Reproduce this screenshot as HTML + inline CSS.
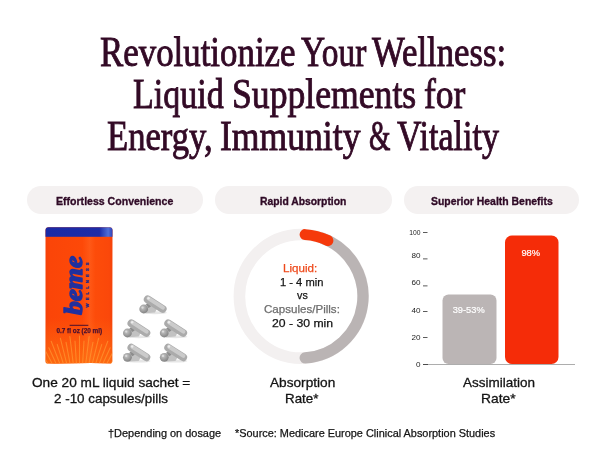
<!DOCTYPE html>
<html lang="en">
<head>
<meta charset="utf-8">
<title>Revolutionize Your Wellness</title>
<style>
html,body{margin:0;padding:0;background:#fff;}
body{width:601px;height:451px;position:relative;overflow:hidden;font-family:"Liberation Sans",sans-serif;color:#141414;}
h1{margin:0;padding:0;font-weight:normal;font-size:inherit;}
.t{position:absolute;display:block;white-space:nowrap;line-height:normal;transform-origin:0 0;}
.pill{position:absolute;top:185.7px;height:28.5px;border-radius:14.25px;background:#f4f1f1;}
svg{position:absolute;left:0;top:0;}
</style>
</head>
<body>
<div class="pill" style="left:26.5px;width:176.1px"></div>
<div class="pill" style="left:214.6px;width:177.4px"></div>
<div class="pill" style="left:403.5px;width:175.8px"></div>

<svg width="601" height="451" viewBox="0 0 601 451">
  <defs>
    <linearGradient id="og" x1="0" y1="0" x2="1" y2="0">
      <stop offset="0" stop-color="#f54008"/>
      <stop offset="0.08" stop-color="#fb4508"/>
      <stop offset="0.55" stop-color="#fd4908"/>
      <stop offset="0.66" stop-color="#ff5816"/>
      <stop offset="0.74" stop-color="#fd4c0a"/>
      <stop offset="0.94" stop-color="#fb480a"/>
      <stop offset="1" stop-color="#f3420a"/>
    </linearGradient>
    <linearGradient id="lg" x1="0" y1="0" x2="0" y2="1">
      <stop offset="0" stop-color="#ff8a18" stop-opacity="0"/>
      <stop offset="1" stop-color="#ff8a18" stop-opacity="0.5"/>
    </linearGradient>
    <linearGradient id="bg" x1="0" y1="0" x2="1" y2="0">
      <stop offset="0" stop-color="#1a2aa6"/>
      <stop offset="0.8" stop-color="#1c2ca8"/>
      <stop offset="0.93" stop-color="#4f6fd8"/>
      <stop offset="1" stop-color="#2a3cb4"/>
    </linearGradient>
    <radialGradient id="sg" cx="0.4" cy="0.35" r="0.7">
      <stop offset="0" stop-color="#c8c8c8"/>
      <stop offset="1" stop-color="#7e7e7e"/>
    </radialGradient>
    <filter id="soft" x="-10%" y="-10%" width="120%" height="120%"><feGaussianBlur stdDeviation="0.6"/></filter>
    <clipPath id="sc"><path d="M45.5 230.3 Q45.5 227.3 48.5 227.3 L109.5 227.3 Q112.5 227.3 112.5 230.3 L112.3 361 Q112.3 363.6 109.5 363.6 Q95 362.6 79 363.2 Q62 363.8 48 363.6 Q45.5 363.6 45.5 361 Z"/></clipPath>
  </defs>

  <!-- sachet -->
  <g clip-path="url(#sc)">
    <rect x="45" y="227" width="68" height="137" fill="url(#og)"/>
    <rect x="45" y="227" width="68" height="9.8" fill="url(#bg)"/>
    <rect x="45" y="318" width="68" height="46" fill="url(#lg)"/>
    <g stroke="#ffa038" stroke-width="1.1" opacity="0.6" stroke-linecap="round">
      <line x1="47.4" y1="379.3" x2="26.6" y2="356.3"/>
      <line x1="49.6" y1="377.4" x2="33.4" y2="357.1"/>
      <line x1="52.0" y1="375.7" x2="34.2" y2="350.3"/>
      <line x1="54.4" y1="374.1" x2="40.8" y2="351.9"/>
      <line x1="57.0" y1="372.6" x2="42.4" y2="345.2"/>
      <line x1="59.6" y1="371.3" x2="48.8" y2="347.7"/>
      <line x1="62.3" y1="370.2" x2="51.2" y2="341.2"/>
      <line x1="65.1" y1="369.2" x2="57.2" y2="344.4"/>
      <line x1="67.9" y1="368.4" x2="60.4" y2="338.3"/>
      <line x1="70.8" y1="367.8" x2="66.0" y2="342.2"/>
      <line x1="73.7" y1="367.4" x2="69.9" y2="336.6"/>
      <line x1="76.6" y1="367.1" x2="75.0" y2="341.1"/>
      <line x1="79.5" y1="367.0" x2="79.5" y2="336.0"/>
      <line x1="82.4" y1="367.1" x2="84.0" y2="341.1"/>
      <line x1="85.3" y1="367.4" x2="89.1" y2="336.6"/>
      <line x1="88.2" y1="367.8" x2="93.0" y2="342.2"/>
      <line x1="91.1" y1="368.4" x2="98.6" y2="338.3"/>
      <line x1="93.9" y1="369.2" x2="101.8" y2="344.4"/>
      <line x1="96.7" y1="370.2" x2="107.8" y2="341.2"/>
      <line x1="99.4" y1="371.3" x2="110.2" y2="347.7"/>
      <line x1="102.0" y1="372.6" x2="116.6" y2="345.2"/>
      <line x1="104.6" y1="374.1" x2="118.2" y2="351.9"/>
      <line x1="107.0" y1="375.7" x2="124.8" y2="350.3"/>
      <line x1="109.4" y1="377.4" x2="125.6" y2="357.1"/>
      <line x1="111.6" y1="379.3" x2="132.4" y2="356.3"/>
    </g>
  </g>
  <text transform="translate(81.6 314.8) rotate(-90) scale(1.005 0.97)" font-family="'Liberation Serif',serif" font-weight="bold" font-style="italic" font-size="27" fill="#21309e" stroke="#21309e" stroke-width="1.5" stroke-linejoin="round">beme</text>
  <text transform="translate(89.1 307.4) rotate(-90)" font-family="'Liberation Sans',sans-serif" font-weight="bold" font-size="4.2" letter-spacing="3.1" fill="#1d2a8c" stroke="#1d2a8c" stroke-width="0.3">WELLNESS</text>
  <rect x="69.6" y="324.8" width="18.7" height="1" fill="#4a1030"/>
  <text x="79.3" y="333.2" text-anchor="middle" font-family="'Liberation Sans',sans-serif" font-weight="bold" font-size="6.4" fill="#4a1030" stroke="#4a1030" stroke-width="0.25">0.7 fl oz (20 ml)</text>

  <!-- capsules -->
  <g filter="url(#soft)">
    <g transform="translate(143.5 309)">
      <ellipse cx="11.5" cy="3.8" rx="12" ry="1.5" fill="#e6e6e6"/>
      <path d="M1 -3.5 L5 -7 L14 -1 L11.5 3.6 L2 4.2 Z" fill="#c2c2c2"/>
      <path d="M2.5 -4.8 L5 -6 L7.5 -2.5 L5 -1 Z" fill="#8c8c8c"/>
      <line x1="4.2" y1="-9.6" x2="19.2" y2="0" stroke="#ababab" stroke-width="7.8" stroke-linecap="round"/>
      <line x1="5" y1="-10.6" x2="19.4" y2="-1.4" stroke="#cbcbcb" stroke-width="4" stroke-linecap="round"/>
      <circle cx="5" cy="-10.8" r="1.2" fill="#ececec"/>
      <circle cx="0.2" cy="0" r="4.4" fill="url(#sg)"/>
      <circle cx="-1" cy="-1.4" r="1.1" fill="#dcdcdc"/>
    </g>
    <g transform="translate(127.2 333)">
      <ellipse cx="11.5" cy="3.8" rx="12" ry="1.5" fill="#e6e6e6"/>
      <path d="M1 -3.5 L5 -7 L14 -1 L11.5 3.6 L2 4.2 Z" fill="#c2c2c2"/>
      <path d="M2.5 -4.8 L5 -6 L7.5 -2.5 L5 -1 Z" fill="#8c8c8c"/>
      <line x1="4.2" y1="-9.6" x2="19.2" y2="0" stroke="#ababab" stroke-width="7.8" stroke-linecap="round"/>
      <line x1="5" y1="-10.6" x2="19.4" y2="-1.4" stroke="#cbcbcb" stroke-width="4" stroke-linecap="round"/>
      <circle cx="5" cy="-10.8" r="1.2" fill="#ececec"/>
      <circle cx="0.2" cy="0" r="4.4" fill="url(#sg)"/>
      <circle cx="-1" cy="-1.4" r="1.1" fill="#dcdcdc"/>
    </g>
    <g transform="translate(164 333)">
      <ellipse cx="11.5" cy="3.8" rx="12" ry="1.5" fill="#e6e6e6"/>
      <path d="M1 -3.5 L5 -7 L14 -1 L11.5 3.6 L2 4.2 Z" fill="#c2c2c2"/>
      <path d="M2.5 -4.8 L5 -6 L7.5 -2.5 L5 -1 Z" fill="#8c8c8c"/>
      <line x1="4.2" y1="-9.6" x2="19.2" y2="0" stroke="#ababab" stroke-width="7.8" stroke-linecap="round"/>
      <line x1="5" y1="-10.6" x2="19.4" y2="-1.4" stroke="#cbcbcb" stroke-width="4" stroke-linecap="round"/>
      <circle cx="5" cy="-10.8" r="1.2" fill="#ececec"/>
      <circle cx="0.2" cy="0" r="4.4" fill="url(#sg)"/>
      <circle cx="-1" cy="-1.4" r="1.1" fill="#dcdcdc"/>
    </g>
    <g transform="translate(127.2 357.3)">
      <ellipse cx="11.5" cy="3.8" rx="12" ry="1.5" fill="#e6e6e6"/>
      <path d="M1 -3.5 L5 -7 L14 -1 L11.5 3.6 L2 4.2 Z" fill="#c2c2c2"/>
      <path d="M2.5 -4.8 L5 -6 L7.5 -2.5 L5 -1 Z" fill="#8c8c8c"/>
      <line x1="4.2" y1="-9.6" x2="19.2" y2="0" stroke="#ababab" stroke-width="7.8" stroke-linecap="round"/>
      <line x1="5" y1="-10.6" x2="19.4" y2="-1.4" stroke="#cbcbcb" stroke-width="4" stroke-linecap="round"/>
      <circle cx="5" cy="-10.8" r="1.2" fill="#ececec"/>
      <circle cx="0.2" cy="0" r="4.4" fill="url(#sg)"/>
      <circle cx="-1" cy="-1.4" r="1.1" fill="#dcdcdc"/>
    </g>
    <g transform="translate(164 357.3)">
      <ellipse cx="11.5" cy="3.8" rx="12" ry="1.5" fill="#e6e6e6"/>
      <path d="M1 -3.5 L5 -7 L14 -1 L11.5 3.6 L2 4.2 Z" fill="#c2c2c2"/>
      <path d="M2.5 -4.8 L5 -6 L7.5 -2.5 L5 -1 Z" fill="#8c8c8c"/>
      <line x1="4.2" y1="-9.6" x2="19.2" y2="0" stroke="#ababab" stroke-width="7.8" stroke-linecap="round"/>
      <line x1="5" y1="-10.6" x2="19.4" y2="-1.4" stroke="#cbcbcb" stroke-width="4" stroke-linecap="round"/>
      <circle cx="5" cy="-10.8" r="1.2" fill="#ececec"/>
      <circle cx="0.2" cy="0" r="4.4" fill="url(#sg)"/>
      <circle cx="-1" cy="-1.4" r="1.1" fill="#dcdcdc"/>
    </g>
  </g>

  <!-- donut -->
  <circle cx="301.2" cy="296.3" r="61.8" fill="none" stroke="#f3f0f0" stroke-width="11.6"/>
  <path d="M322.34 238.23A61.8 61.8 0 0 1 305.19 357.97" fill="none" stroke="#bab4b4" stroke-width="11.3" stroke-linecap="round"/>
  <path d="M305.08 234.62A61.8 61.8 0 0 1 327.90 240.57" fill="none" stroke="#f5390b" stroke-width="11" stroke-linecap="round"/>

  <!-- bar chart -->
  <rect x="442.5" y="294.5" width="54" height="69.5" rx="6" fill="#bbb5b5"/>
  <rect x="505" y="235.5" width="53.5" height="128.5" rx="7" fill="#f52c08"/>
  <rect x="423" y="364.1" width="152" height="0.7" fill="#8a8a8a"/>
  <rect x="423" y="364" width="5" height="0.8" fill="#333"/>
  <g font-family="'Liberation Sans',sans-serif" font-size="8.1" fill="#1c1c1c" text-anchor="end">
    <text transform="translate(420.4 235.2) scale(0.83 1)">100</text>
    <text x="420.4" y="258.2">80</text>
    <text x="420.4" y="285.4">60</text>
    <text x="420.4" y="312.5">40</text>
    <text x="420.4" y="339.8">20</text>
    <text x="420.4" y="367.2">0</text>
  </g>
  <g fill="#333">
    <rect x="423" y="232" width="4.5" height="0.8"/>
    <rect x="423" y="258.5" width="4.5" height="0.8"/>
    <rect x="423" y="285.5" width="4.5" height="0.8"/>
    <rect x="423" y="311" width="4.5" height="0.8"/>
    <rect x="423" y="337" width="4.5" height="0.8"/>
  </g>
  <g font-family="'Liberation Sans',sans-serif" font-size="9.3" fill="#fff" stroke="#fff" stroke-width="0.2" text-anchor="middle">
    <text x="530.7" y="255.8">98%</text>
    <text x="468.7" y="312.8">39-53%</text>
  </g>
</svg>

<h1>
<span class="t" style="left:99.66px;top:29px;line-height:46px;font-size:41.5px;font-family:'Liberation Serif',serif;color:#330a26;transform:scaleX(0.8399);-webkit-text-stroke:0.9px #330a26;">Revolutionize</span>
<span class="t" style="left:301.30px;top:29px;line-height:46px;font-size:41.5px;font-family:'Liberation Serif',serif;color:#330a26;transform:scaleX(0.8043);-webkit-text-stroke:0.9px #330a26;">Your</span>
<span class="t" style="left:371.80px;top:29px;line-height:46px;font-size:41.5px;font-family:'Liberation Serif',serif;color:#330a26;transform:scaleX(0.8365);-webkit-text-stroke:0.9px #330a26;">Wellness:</span>
<span class="t" style="left:132.78px;top:71px;line-height:46px;font-size:41.5px;font-family:'Liberation Serif',serif;color:#330a26;transform:scaleX(0.8198);-webkit-text-stroke:0.9px #330a26;">Liquid</span>
<span class="t" style="left:232.28px;top:71px;line-height:46px;font-size:41.5px;font-family:'Liberation Serif',serif;color:#330a26;transform:scaleX(0.8591);-webkit-text-stroke:0.9px #330a26;">Supplements</span>
<span class="t" style="left:423.94px;top:71px;line-height:46px;font-size:41.5px;font-family:'Liberation Serif',serif;color:#330a26;transform:scaleX(0.8556);-webkit-text-stroke:0.9px #330a26;">for</span>
<span class="t" style="left:106.97px;top:113px;line-height:46px;font-size:41.5px;font-family:'Liberation Serif',serif;color:#330a26;transform:scaleX(0.8339);-webkit-text-stroke:0.9px #330a26;">Energy,</span>
<span class="t" style="left:220.34px;top:113px;line-height:46px;font-size:41.5px;font-family:'Liberation Serif',serif;color:#330a26;transform:scaleX(0.8580);-webkit-text-stroke:0.9px #330a26;">Immunity</span>
<span class="t" style="left:368.74px;top:113px;line-height:46px;font-size:41.5px;font-family:'Liberation Serif',serif;color:#330a26;transform:scaleX(0.6645);-webkit-text-stroke:0.9px #330a26;">&amp;</span>
<span class="t" style="left:397.00px;top:113px;line-height:46px;font-size:41.5px;font-family:'Liberation Serif',serif;color:#330a26;transform:scaleX(0.8198);-webkit-text-stroke:0.9px #330a26;">Vitality</span>
</h1>
<div class="t" style="left:56.40px;top:195px;line-height:12px;font-size:11.4px;font-family:'Liberation Sans',sans-serif;color:#2f0a26;transform:scaleX(0.9266);font-weight:bold;-webkit-text-stroke:0.35px #2f0a26;">Effortless Convenience</div>
<div class="t" style="left:260.00px;top:195px;line-height:12px;font-size:11.4px;font-family:'Liberation Sans',sans-serif;color:#2f0a26;transform:scaleX(0.9081);font-weight:bold;-webkit-text-stroke:0.35px #2f0a26;">Rapid Absorption</div>
<div class="t" style="left:431.00px;top:195px;line-height:12px;font-size:11.4px;font-family:'Liberation Sans',sans-serif;color:#2f0a26;transform:scaleX(0.9157);font-weight:bold;-webkit-text-stroke:0.35px #2f0a26;">Superior Health Benefits</div>
<div class="t" style="left:283.30px;top:262px;line-height:12px;font-size:11.3px;font-family:'Liberation Sans',sans-serif;color:#ee4a1c;transform:scaleX(1.0286);-webkit-text-stroke:0.25px #ee4a1c;">Liquid:</div>
<div class="t" style="left:280.10px;top:276px;line-height:12px;font-size:11.3px;font-family:'Liberation Sans',sans-serif;color:#141414;transform:scaleX(0.9871);-webkit-text-stroke:0.25px #141414;">1 - 4 min</div>
<div class="t" style="left:296.50px;top:289px;line-height:12px;font-size:11.3px;font-family:'Liberation Sans',sans-serif;color:#141414;transform:scaleX(0.9529);-webkit-text-stroke:0.25px #141414;">vs</div>
<div class="t" style="left:263.80px;top:303px;line-height:12px;font-size:11.3px;font-family:'Liberation Sans',sans-serif;color:#6d6d6d;transform:scaleX(1.0237);-webkit-text-stroke:0.25px #6d6d6d;">Capsules/Pills:</div>
<div class="t" style="left:271.60px;top:317px;line-height:12px;font-size:11.3px;font-family:'Liberation Sans',sans-serif;color:#141414;transform:scaleX(1.0813);-webkit-text-stroke:0.25px #141414;">20 - 30 min</div>
<div class="t" style="left:32.20px;top:375px;line-height:15px;font-size:13px;font-family:'Liberation Sans',sans-serif;color:#141414;transform:scaleX(1.0490);-webkit-text-stroke:0.3px #141414;">One 20 mL liquid sachet =</div>
<div class="t" style="left:54.00px;top:391px;line-height:15px;font-size:13px;font-family:'Liberation Sans',sans-serif;color:#141414;transform:scaleX(1.0301);-webkit-text-stroke:0.3px #141414;">2 -10 capsules/pills</div>
<div class="t" style="left:270.00px;top:375px;line-height:15px;font-size:13px;font-family:'Liberation Sans',sans-serif;color:#141414;transform:scaleX(1.0497);-webkit-text-stroke:0.3px #141414;">Absorption</div>
<div class="t" style="left:284.97px;top:391px;line-height:15px;font-size:13px;font-family:'Liberation Sans',sans-serif;color:#141414;transform:scaleX(1.0267);-webkit-text-stroke:0.3px #141414;">Rate*</div>
<div class="t" style="left:463.30px;top:375px;line-height:15px;font-size:13px;font-family:'Liberation Sans',sans-serif;color:#141414;transform:scaleX(1.0373);-webkit-text-stroke:0.3px #141414;">Assimilation</div>
<div class="t" style="left:481.24px;top:391px;line-height:15px;font-size:13px;font-family:'Liberation Sans',sans-serif;color:#141414;transform:scaleX(1.0617);-webkit-text-stroke:0.3px #141414;">Rate*</div>
<div class="t" style="left:108.00px;top:427px;line-height:12px;font-size:11px;font-family:'Liberation Sans',sans-serif;color:#141414;transform:scaleX(0.9943);-webkit-text-stroke:0.25px #141414;">†Depending on dosage</div>
<div class="t" style="left:234.80px;top:427px;line-height:12px;font-size:11px;font-family:'Liberation Sans',sans-serif;color:#141414;transform:scaleX(0.9916);-webkit-text-stroke:0.25px #141414;">*Source: Medicare Europe Clinical Absorption Studies</div>
</body>
</html>
